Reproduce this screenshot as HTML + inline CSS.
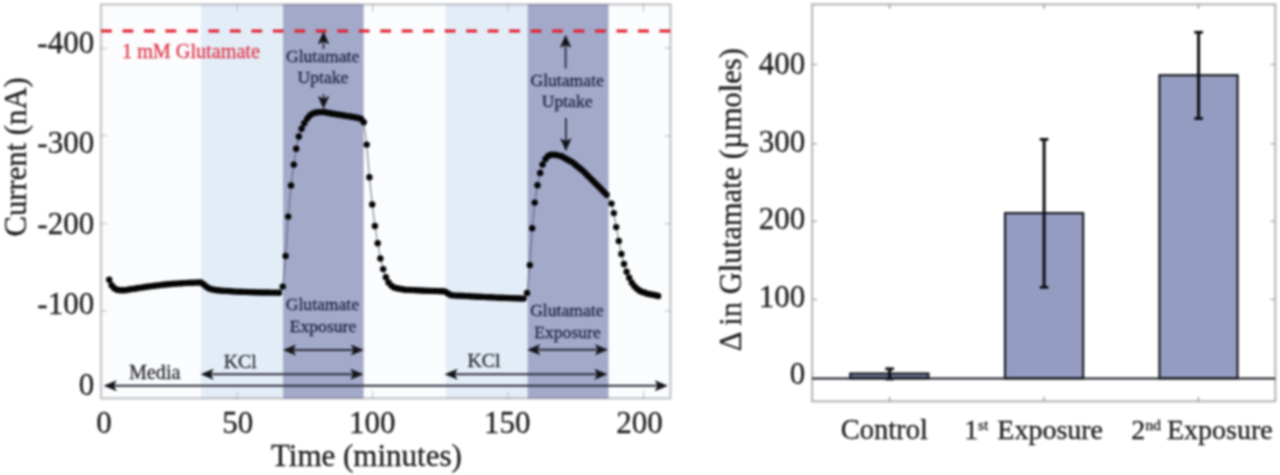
<!DOCTYPE html>
<html><head><meta charset="utf-8"><title>Glutamate figure</title>
<style>
html,body{margin:0;padding:0;background:#fff;}
body{width:1280px;height:475px;overflow:hidden;}
text{stroke-width:0.3px;paint-order:stroke;}
svg{display:block;filter:blur(0.8px);font-family:"Liberation Serif","Times New Roman",serif;}
</style></head>
<body>
<svg width="1280" height="475" viewBox="0 0 1280 475">
<rect x="0" y="0" width="1280" height="475" fill="#ffffff"/>
<rect x="101.0" y="4.4" width="569.5" height="394.0" fill="#fafcfe"/>
<rect x="201.0" y="4.4" width="82.2" height="394.0" fill="#e3edf8"/>
<rect x="446.0" y="4.4" width="82.0" height="394.0" fill="#e3edf8"/>
<rect x="283.1" y="4.4" width="80.5" height="394.0" fill="#a2a9c9"/>
<rect x="527.7" y="4.4" width="80.8" height="394.0" fill="#a2a9c9"/>
<line x1="237.4" y1="398.4" x2="237.4" y2="391.4" stroke="#c4c6cc" stroke-width="1.2" />
<line x1="237.4" y1="4.4" x2="237.4" y2="11.4" stroke="#c4c6cc" stroke-width="1.2" />
<line x1="372.6" y1="398.4" x2="372.6" y2="391.4" stroke="#c4c6cc" stroke-width="1.2" />
<line x1="372.6" y1="4.4" x2="372.6" y2="11.4" stroke="#c4c6cc" stroke-width="1.2" />
<line x1="508.0" y1="398.4" x2="508.0" y2="391.4" stroke="#c4c6cc" stroke-width="1.2" />
<line x1="508.0" y1="4.4" x2="508.0" y2="11.4" stroke="#c4c6cc" stroke-width="1.2" />
<line x1="643.5" y1="398.4" x2="643.5" y2="391.4" stroke="#c4c6cc" stroke-width="1.2" />
<line x1="643.5" y1="4.4" x2="643.5" y2="11.4" stroke="#c4c6cc" stroke-width="1.2" />
<line x1="101.0" y1="48.2" x2="107.0" y2="48.2" stroke="#c4c6cc" stroke-width="1.2" />
<line x1="670.5" y1="48.2" x2="664.5" y2="48.2" stroke="#c4c6cc" stroke-width="1.2" />
<line x1="101.0" y1="135.8" x2="107.0" y2="135.8" stroke="#c4c6cc" stroke-width="1.2" />
<line x1="670.5" y1="135.8" x2="664.5" y2="135.8" stroke="#c4c6cc" stroke-width="1.2" />
<line x1="101.0" y1="223.7" x2="107.0" y2="223.7" stroke="#c4c6cc" stroke-width="1.2" />
<line x1="670.5" y1="223.7" x2="664.5" y2="223.7" stroke="#c4c6cc" stroke-width="1.2" />
<line x1="101.0" y1="310.8" x2="107.0" y2="310.8" stroke="#c4c6cc" stroke-width="1.2" />
<line x1="670.5" y1="310.8" x2="664.5" y2="310.8" stroke="#c4c6cc" stroke-width="1.2" />
<rect x="101.0" y="4.4" width="569.5" height="394.0" fill="none" stroke="#15181f" stroke-opacity="0.23" stroke-width="2.4"/>
<line x1="101" y1="31" x2="670.5" y2="31" stroke="#e21b2b" stroke-width="3.1" stroke-dasharray="10.8 10.68"/>
<text x="122.0" y="57.9" font-size="20.2" fill="#e0394a" stroke="#e0394a" text-anchor="start" >1 mM Glutamate</text>
<polyline fill="none" stroke="#4a4c58" stroke-width="0.8" points="109.2,279.7 111.6,285.3 114.3,288.3 117.0,289.8 119.7,290.3 122.4,290.3 125.1,290.2 127.8,289.8 130.5,289.3 133.2,288.9 135.9,288.5 138.6,288.0 141.3,287.6 144.0,287.2 146.7,286.8 149.4,286.4 152.1,286.1 154.8,285.7 157.5,285.4 160.2,285.1 162.9,284.8 165.6,284.5 168.3,284.3 171.0,284.0 173.7,283.8 176.4,283.6 179.1,283.4 181.8,283.2 184.5,283.1 187.2,282.9 189.9,282.8 192.6,282.7 195.3,282.6 198.0,282.5 200.7,282.4 203.4,284.2 206.1,286.5 208.8,288.2 211.5,289.2 214.2,289.7 216.9,290.2 219.6,290.5 222.3,290.7 225.0,290.9 227.7,291.0 230.4,291.2 233.1,291.4 235.8,291.6 238.5,291.7 241.2,291.8 243.9,291.9 246.6,292.0 249.3,292.1 252.0,292.2 254.7,292.3 257.4,292.4 260.1,292.4 262.8,292.5 265.5,292.5 268.2,292.5 270.9,292.6 273.6,292.6 276.3,292.6 279.0,292.7 282.7,286.6 285.6,255.9 288.2,216.6 291.0,185.4 293.8,164.6 296.2,148.7 298.8,136.5 301.6,128.8 304.3,123.3 307.2,118.6 309.9,115.4 312.6,113.6 315.3,112.8 318.0,112.3 320.7,112.1 323.4,112.0 326.1,112.5 328.8,113.0 331.5,113.5 334.2,113.9 336.9,114.4 339.6,114.8 342.3,115.2 345.0,115.7 347.7,116.1 350.4,116.5 353.1,117.0 355.8,117.5 358.5,118.0 361.2,118.9 363.8,122.3 366.7,144.6 369.4,177.3 372.2,204.4 374.9,226.0 377.7,243.2 380.4,258.5 383.2,269.1 385.9,277.3 388.5,282.4 391.3,285.6 394.0,287.4 396.7,288.3 399.4,288.8 402.1,289.3 404.8,289.7 407.5,289.9 410.2,290.0 412.9,290.1 415.6,290.3 418.3,290.4 421.0,290.5 423.7,290.7 426.4,290.8 429.1,290.9 431.8,290.9 434.5,291.0 437.2,291.1 439.9,291.2 442.6,291.2 445.3,291.7 448.0,293.5 450.7,295.0 453.4,295.4 456.1,295.6 458.8,295.7 461.5,295.8 464.2,296.0 466.9,296.1 469.6,296.3 472.3,296.4 475.0,296.5 477.7,296.7 480.4,296.8 483.1,296.9 485.8,297.1 488.5,297.2 491.2,297.3 493.9,297.4 496.6,297.6 499.3,297.7 502.0,297.8 504.7,297.9 507.4,298.0 510.1,298.1 512.8,298.2 515.5,298.3 518.2,298.4 520.9,298.5 523.6,298.6 527.0,293.0 529.8,265.1 532.2,228.2 534.7,202.6 537.5,185.2 540.2,172.9 542.6,164.5 545.5,159.0 548.2,156.0 550.9,154.8 553.6,154.7 556.2,155.0 558.9,155.6 561.5,156.3 564.2,157.7 566.8,159.2 569.5,160.7 572.1,162.1 574.8,164.3 577.4,166.4 580.1,168.5 582.7,170.6 585.4,173.3 588.0,175.9 590.7,178.6 593.3,181.2 596.0,183.9 598.6,186.5 601.3,189.2 603.9,191.9 606.6,194.8 611.5,203.6 613.8,213.1 616.2,227.1 618.8,241.0 621.4,254.0 624.0,264.0 626.6,271.8 629.2,277.8 631.8,282.7 634.4,286.2 637.0,288.8 639.6,290.8 642.2,292.0 644.9,292.8 647.5,293.7 650.1,294.2 652.8,294.7 655.4,295.3 658.1,296.0"/>
<g fill="#050505"><circle cx="109.2" cy="279.7" r="3.2"/><circle cx="111.6" cy="285.3" r="3.2"/><circle cx="114.3" cy="288.3" r="3.2"/><circle cx="117.0" cy="289.8" r="3.2"/><circle cx="119.7" cy="290.3" r="3.2"/><circle cx="122.4" cy="290.3" r="3.2"/><circle cx="125.1" cy="290.2" r="3.2"/><circle cx="127.8" cy="289.8" r="3.2"/><circle cx="130.5" cy="289.3" r="3.2"/><circle cx="133.2" cy="288.9" r="3.2"/><circle cx="135.9" cy="288.5" r="3.2"/><circle cx="138.6" cy="288.0" r="3.2"/><circle cx="141.3" cy="287.6" r="3.2"/><circle cx="144.0" cy="287.2" r="3.2"/><circle cx="146.7" cy="286.8" r="3.2"/><circle cx="149.4" cy="286.4" r="3.2"/><circle cx="152.1" cy="286.1" r="3.2"/><circle cx="154.8" cy="285.7" r="3.2"/><circle cx="157.5" cy="285.4" r="3.2"/><circle cx="160.2" cy="285.1" r="3.2"/><circle cx="162.9" cy="284.8" r="3.2"/><circle cx="165.6" cy="284.5" r="3.2"/><circle cx="168.3" cy="284.3" r="3.2"/><circle cx="171.0" cy="284.0" r="3.2"/><circle cx="173.7" cy="283.8" r="3.2"/><circle cx="176.4" cy="283.6" r="3.2"/><circle cx="179.1" cy="283.4" r="3.2"/><circle cx="181.8" cy="283.2" r="3.2"/><circle cx="184.5" cy="283.1" r="3.2"/><circle cx="187.2" cy="282.9" r="3.2"/><circle cx="189.9" cy="282.8" r="3.2"/><circle cx="192.6" cy="282.7" r="3.2"/><circle cx="195.3" cy="282.6" r="3.2"/><circle cx="198.0" cy="282.5" r="3.2"/><circle cx="200.7" cy="282.4" r="3.2"/><circle cx="203.4" cy="284.2" r="3.2"/><circle cx="206.1" cy="286.5" r="3.2"/><circle cx="208.8" cy="288.2" r="3.2"/><circle cx="211.5" cy="289.2" r="3.2"/><circle cx="214.2" cy="289.7" r="3.2"/><circle cx="216.9" cy="290.2" r="3.2"/><circle cx="219.6" cy="290.5" r="3.2"/><circle cx="222.3" cy="290.7" r="3.2"/><circle cx="225.0" cy="290.9" r="3.2"/><circle cx="227.7" cy="291.0" r="3.2"/><circle cx="230.4" cy="291.2" r="3.2"/><circle cx="233.1" cy="291.4" r="3.2"/><circle cx="235.8" cy="291.6" r="3.2"/><circle cx="238.5" cy="291.7" r="3.2"/><circle cx="241.2" cy="291.8" r="3.2"/><circle cx="243.9" cy="291.9" r="3.2"/><circle cx="246.6" cy="292.0" r="3.2"/><circle cx="249.3" cy="292.1" r="3.2"/><circle cx="252.0" cy="292.2" r="3.2"/><circle cx="254.7" cy="292.3" r="3.2"/><circle cx="257.4" cy="292.4" r="3.2"/><circle cx="260.1" cy="292.4" r="3.2"/><circle cx="262.8" cy="292.5" r="3.2"/><circle cx="265.5" cy="292.5" r="3.2"/><circle cx="268.2" cy="292.5" r="3.2"/><circle cx="270.9" cy="292.6" r="3.2"/><circle cx="273.6" cy="292.6" r="3.2"/><circle cx="276.3" cy="292.6" r="3.2"/><circle cx="279.0" cy="292.7" r="3.2"/><circle cx="282.7" cy="286.6" r="3.2"/><circle cx="285.6" cy="255.9" r="3.2"/><circle cx="288.2" cy="216.6" r="3.2"/><circle cx="291.0" cy="185.4" r="3.2"/><circle cx="293.8" cy="164.6" r="3.2"/><circle cx="296.2" cy="148.7" r="3.2"/><circle cx="298.8" cy="136.5" r="3.2"/><circle cx="301.6" cy="128.8" r="3.2"/><circle cx="304.3" cy="123.3" r="3.2"/><circle cx="307.2" cy="118.6" r="3.2"/><circle cx="309.9" cy="115.4" r="3.2"/><circle cx="312.6" cy="113.6" r="3.2"/><circle cx="315.3" cy="112.8" r="3.2"/><circle cx="318.0" cy="112.3" r="3.2"/><circle cx="320.7" cy="112.1" r="3.2"/><circle cx="323.4" cy="112.0" r="3.2"/><circle cx="326.1" cy="112.5" r="3.2"/><circle cx="328.8" cy="113.0" r="3.2"/><circle cx="331.5" cy="113.5" r="3.2"/><circle cx="334.2" cy="113.9" r="3.2"/><circle cx="336.9" cy="114.4" r="3.2"/><circle cx="339.6" cy="114.8" r="3.2"/><circle cx="342.3" cy="115.2" r="3.2"/><circle cx="345.0" cy="115.7" r="3.2"/><circle cx="347.7" cy="116.1" r="3.2"/><circle cx="350.4" cy="116.5" r="3.2"/><circle cx="353.1" cy="117.0" r="3.2"/><circle cx="355.8" cy="117.5" r="3.2"/><circle cx="358.5" cy="118.0" r="3.2"/><circle cx="361.2" cy="118.9" r="3.2"/><circle cx="363.8" cy="122.3" r="3.2"/><circle cx="366.7" cy="144.6" r="3.2"/><circle cx="369.4" cy="177.3" r="3.2"/><circle cx="372.2" cy="204.4" r="3.2"/><circle cx="374.9" cy="226.0" r="3.2"/><circle cx="377.7" cy="243.2" r="3.2"/><circle cx="380.4" cy="258.5" r="3.2"/><circle cx="383.2" cy="269.1" r="3.2"/><circle cx="385.9" cy="277.3" r="3.2"/><circle cx="388.5" cy="282.4" r="3.2"/><circle cx="391.3" cy="285.6" r="3.2"/><circle cx="394.0" cy="287.4" r="3.2"/><circle cx="396.7" cy="288.3" r="3.2"/><circle cx="399.4" cy="288.8" r="3.2"/><circle cx="402.1" cy="289.3" r="3.2"/><circle cx="404.8" cy="289.7" r="3.2"/><circle cx="407.5" cy="289.9" r="3.2"/><circle cx="410.2" cy="290.0" r="3.2"/><circle cx="412.9" cy="290.1" r="3.2"/><circle cx="415.6" cy="290.3" r="3.2"/><circle cx="418.3" cy="290.4" r="3.2"/><circle cx="421.0" cy="290.5" r="3.2"/><circle cx="423.7" cy="290.7" r="3.2"/><circle cx="426.4" cy="290.8" r="3.2"/><circle cx="429.1" cy="290.9" r="3.2"/><circle cx="431.8" cy="290.9" r="3.2"/><circle cx="434.5" cy="291.0" r="3.2"/><circle cx="437.2" cy="291.1" r="3.2"/><circle cx="439.9" cy="291.2" r="3.2"/><circle cx="442.6" cy="291.2" r="3.2"/><circle cx="445.3" cy="291.7" r="3.2"/><circle cx="448.0" cy="293.5" r="3.2"/><circle cx="450.7" cy="295.0" r="3.2"/><circle cx="453.4" cy="295.4" r="3.2"/><circle cx="456.1" cy="295.6" r="3.2"/><circle cx="458.8" cy="295.7" r="3.2"/><circle cx="461.5" cy="295.8" r="3.2"/><circle cx="464.2" cy="296.0" r="3.2"/><circle cx="466.9" cy="296.1" r="3.2"/><circle cx="469.6" cy="296.3" r="3.2"/><circle cx="472.3" cy="296.4" r="3.2"/><circle cx="475.0" cy="296.5" r="3.2"/><circle cx="477.7" cy="296.7" r="3.2"/><circle cx="480.4" cy="296.8" r="3.2"/><circle cx="483.1" cy="296.9" r="3.2"/><circle cx="485.8" cy="297.1" r="3.2"/><circle cx="488.5" cy="297.2" r="3.2"/><circle cx="491.2" cy="297.3" r="3.2"/><circle cx="493.9" cy="297.4" r="3.2"/><circle cx="496.6" cy="297.6" r="3.2"/><circle cx="499.3" cy="297.7" r="3.2"/><circle cx="502.0" cy="297.8" r="3.2"/><circle cx="504.7" cy="297.9" r="3.2"/><circle cx="507.4" cy="298.0" r="3.2"/><circle cx="510.1" cy="298.1" r="3.2"/><circle cx="512.8" cy="298.2" r="3.2"/><circle cx="515.5" cy="298.3" r="3.2"/><circle cx="518.2" cy="298.4" r="3.2"/><circle cx="520.9" cy="298.5" r="3.2"/><circle cx="523.6" cy="298.6" r="3.2"/><circle cx="527.0" cy="293.0" r="3.2"/><circle cx="529.8" cy="265.1" r="3.2"/><circle cx="532.2" cy="228.2" r="3.2"/><circle cx="534.7" cy="202.6" r="3.2"/><circle cx="537.5" cy="185.2" r="3.2"/><circle cx="540.2" cy="172.9" r="3.2"/><circle cx="542.6" cy="164.5" r="3.2"/><circle cx="545.5" cy="159.0" r="3.2"/><circle cx="548.2" cy="156.0" r="3.2"/><circle cx="550.9" cy="154.8" r="3.2"/><circle cx="553.6" cy="154.7" r="3.2"/><circle cx="556.2" cy="155.0" r="3.2"/><circle cx="558.9" cy="155.6" r="3.2"/><circle cx="561.5" cy="156.3" r="3.2"/><circle cx="564.2" cy="157.7" r="3.2"/><circle cx="566.8" cy="159.2" r="3.2"/><circle cx="569.5" cy="160.7" r="3.2"/><circle cx="572.1" cy="162.1" r="3.2"/><circle cx="574.8" cy="164.3" r="3.2"/><circle cx="577.4" cy="166.4" r="3.2"/><circle cx="580.1" cy="168.5" r="3.2"/><circle cx="582.7" cy="170.6" r="3.2"/><circle cx="585.4" cy="173.3" r="3.2"/><circle cx="588.0" cy="175.9" r="3.2"/><circle cx="590.7" cy="178.6" r="3.2"/><circle cx="593.3" cy="181.2" r="3.2"/><circle cx="596.0" cy="183.9" r="3.2"/><circle cx="598.6" cy="186.5" r="3.2"/><circle cx="601.3" cy="189.2" r="3.2"/><circle cx="603.9" cy="191.9" r="3.2"/><circle cx="606.6" cy="194.8" r="3.2"/><circle cx="611.5" cy="203.6" r="3.2"/><circle cx="613.8" cy="213.1" r="3.2"/><circle cx="616.2" cy="227.1" r="3.2"/><circle cx="618.8" cy="241.0" r="3.2"/><circle cx="621.4" cy="254.0" r="3.2"/><circle cx="624.0" cy="264.0" r="3.2"/><circle cx="626.6" cy="271.8" r="3.2"/><circle cx="629.2" cy="277.8" r="3.2"/><circle cx="631.8" cy="282.7" r="3.2"/><circle cx="634.4" cy="286.2" r="3.2"/><circle cx="637.0" cy="288.8" r="3.2"/><circle cx="639.6" cy="290.8" r="3.2"/><circle cx="642.2" cy="292.0" r="3.2"/><circle cx="644.9" cy="292.8" r="3.2"/><circle cx="647.5" cy="293.7" r="3.2"/><circle cx="650.1" cy="294.2" r="3.2"/><circle cx="652.8" cy="294.7" r="3.2"/><circle cx="655.4" cy="295.3" r="3.2"/><circle cx="658.1" cy="296.0" r="3.2"/></g>
<line x1="111.6" y1="385.8" x2="659.9" y2="385.8" stroke="#2d2e3a" stroke-width="2.0" /><polygon points="103.6,385.8 116.8,380.3 113.8,385.8 116.8,391.3" fill="#141418"/><polygon points="667.9,385.8 654.7,391.3 657.7,385.8 654.7,380.3" fill="#141418"/>
<line x1="208.5" y1="374.3" x2="355.5" y2="374.3" stroke="#2d2e3a" stroke-width="2.0" /><polygon points="200.5,374.3 213.7,368.8 210.7,374.3 213.7,379.8" fill="#141418"/><polygon points="363.5,374.3 350.3,379.8 353.3,374.3 350.3,368.8" fill="#141418"/>
<line x1="452.5" y1="374.3" x2="599.5" y2="374.3" stroke="#2d2e3a" stroke-width="2.0" /><polygon points="444.5,374.3 457.7,368.8 454.7,374.3 457.7,379.8" fill="#141418"/><polygon points="607.5,374.3 594.3,379.8 597.3,374.3 594.3,368.8" fill="#141418"/>
<line x1="290.9" y1="350.0" x2="355.9" y2="350.0" stroke="#2d2e3a" stroke-width="2.0" /><polygon points="282.9,350.0 296.1,344.5 293.1,350.0 296.1,355.5" fill="#141418"/><polygon points="363.9,350.0 350.7,355.5 353.7,350.0 350.7,344.5" fill="#141418"/>
<line x1="535.1" y1="349.8" x2="600.1" y2="349.8" stroke="#2d2e3a" stroke-width="2.0" /><polygon points="527.1,349.8 540.3,344.3 537.3,349.8 540.3,355.3" fill="#141418"/><polygon points="608.1,349.8 594.9,355.3 597.9,349.8 594.9,344.3" fill="#141418"/>
<line x1="323.5" y1="49.0" x2="323.5" y2="39.2" stroke="#2d2e3a" stroke-width="1.8" /><polygon points="323.5,31.2 329.2,44.2 323.5,41.4 317.8,44.2" fill="#141418"/>
<line x1="323.5" y1="94.2" x2="323.5" y2="101.0" stroke="#2d2e3a" stroke-width="1.8" /><polygon points="323.5,109.0 317.8,96.0 323.5,98.8 329.2,96.0" fill="#141418"/>
<line x1="565.6" y1="68.4" x2="565.6" y2="42.8" stroke="#2d2e3a" stroke-width="1.8" /><polygon points="565.6,34.8 571.3,47.8 565.6,45.0 559.9,47.8" fill="#141418"/>
<line x1="565.9" y1="118.0" x2="565.9" y2="143.2" stroke="#2d2e3a" stroke-width="1.8" /><polygon points="565.9,151.2 560.2,138.2 565.9,141.0 571.6,138.2" fill="#141418"/>
<text x="322.6" y="62.2" font-size="17.6" fill="#20253f" stroke="#20253f" text-anchor="middle" >Glutamate</text>
<text x="323.0" y="83.0" font-size="17.6" fill="#20253f" stroke="#20253f" text-anchor="middle" >Uptake</text>
<text x="567.1" y="85.5" font-size="17.6" fill="#20253f" stroke="#20253f" text-anchor="middle" >Glutamate</text>
<text x="567.1" y="107.1" font-size="17.6" fill="#20253f" stroke="#20253f" text-anchor="middle" >Uptake</text>
<text x="322.4" y="310.4" font-size="17.6" fill="#20253f" stroke="#20253f" text-anchor="middle" >Glutamate</text>
<text x="323.0" y="332.1" font-size="17.6" fill="#20253f" stroke="#20253f" text-anchor="middle" >Exposure</text>
<text x="566.8" y="315.9" font-size="17.6" fill="#20253f" stroke="#20253f" text-anchor="middle" >Glutamate</text>
<text x="567.5" y="337.5" font-size="17.6" fill="#20253f" stroke="#20253f" text-anchor="middle" >Exposure</text>
<text x="154.7" y="379.0" font-size="20.2" fill="#2a2a2e" stroke="#2a2a2e" text-anchor="middle" >Media</text>
<text x="240.2" y="368.0" font-size="19.8" fill="#2a2a2e" stroke="#2a2a2e" text-anchor="middle" >KCl</text>
<text x="484.0" y="366.6" font-size="19.8" fill="#2a2a2e" stroke="#2a2a2e" text-anchor="middle" >KCl</text>
<text x="94.2" y="52.7" font-size="31" fill="#1c1c1c" stroke="#1c1c1c" text-anchor="end" >-400</text>
<text x="94.2" y="152.8" font-size="31" fill="#1c1c1c" stroke="#1c1c1c" text-anchor="end" >-300</text>
<text x="94.2" y="233.5" font-size="31" fill="#1c1c1c" stroke="#1c1c1c" text-anchor="end" >-200</text>
<text x="94.2" y="314.3" font-size="31" fill="#1c1c1c" stroke="#1c1c1c" text-anchor="end" >-100</text>
<text x="94.2" y="395.4" font-size="31" fill="#1c1c1c" stroke="#1c1c1c" text-anchor="end" >0</text>
<text x="104.0" y="433.3" font-size="31" fill="#1c1c1c" stroke="#1c1c1c" text-anchor="middle" >0</text>
<text x="237.8" y="433.3" font-size="31" fill="#1c1c1c" stroke="#1c1c1c" text-anchor="middle" >50</text>
<text x="372.2" y="433.3" font-size="31" fill="#1c1c1c" stroke="#1c1c1c" text-anchor="middle" >100</text>
<text x="507.3" y="433.3" font-size="31" fill="#1c1c1c" stroke="#1c1c1c" text-anchor="middle" >150</text>
<text x="639.4" y="433.3" font-size="31" fill="#1c1c1c" stroke="#1c1c1c" text-anchor="middle" >200</text>
<text x="366.4" y="465.8" font-size="31" fill="#1c1c1c" stroke="#1c1c1c" text-anchor="middle" >Time (minutes)</text>
<text transform="translate(26.3,156.9) rotate(-90)" font-size="30.7" fill="#1c1c1c" stroke="#1c1c1c" text-anchor="middle">Current (nA)</text>
<rect x="812.1" y="4.4" width="463.2" height="396.9" fill="#ffffff" stroke="#bcbcbe" stroke-width="2.3"/>
<line x1="889.5" y1="401.3" x2="889.5" y2="396.8" stroke="#8e8e92" stroke-width="1.2" />
<line x1="889.5" y1="4.4" x2="889.5" y2="8.9" stroke="#8e8e92" stroke-width="1.2" />
<line x1="1044.0" y1="401.3" x2="1044.0" y2="396.8" stroke="#8e8e92" stroke-width="1.2" />
<line x1="1044.0" y1="4.4" x2="1044.0" y2="8.9" stroke="#8e8e92" stroke-width="1.2" />
<line x1="1198.5" y1="401.3" x2="1198.5" y2="396.8" stroke="#8e8e92" stroke-width="1.2" />
<line x1="1198.5" y1="4.4" x2="1198.5" y2="8.9" stroke="#8e8e92" stroke-width="1.2" />
<line x1="812.1" y1="64.5" x2="817.1" y2="64.5" stroke="#a0a0a4" stroke-width="1.2" />
<line x1="1275.3" y1="64.5" x2="1270.3" y2="64.5" stroke="#a0a0a4" stroke-width="1.2" />
<line x1="812.1" y1="143.8" x2="817.1" y2="143.8" stroke="#a0a0a4" stroke-width="1.2" />
<line x1="1275.3" y1="143.8" x2="1270.3" y2="143.8" stroke="#a0a0a4" stroke-width="1.2" />
<line x1="812.1" y1="221.3" x2="817.1" y2="221.3" stroke="#a0a0a4" stroke-width="1.2" />
<line x1="1275.3" y1="221.3" x2="1270.3" y2="221.3" stroke="#a0a0a4" stroke-width="1.2" />
<line x1="812.1" y1="299.5" x2="817.1" y2="299.5" stroke="#a0a0a4" stroke-width="1.2" />
<line x1="1275.3" y1="299.5" x2="1270.3" y2="299.5" stroke="#a0a0a4" stroke-width="1.2" />
<rect x="850.2" y="373.5" width="78.2" height="4.9" fill="#6f7691" stroke="#17181f" stroke-width="2.1"/>
<rect x="1005.0" y="213.1" width="78.2" height="165.3" fill="#949dc1" stroke="#17181f" stroke-width="2.1"/>
<rect x="1159.4" y="75.2" width="78.2" height="303.2" fill="#949dc1" stroke="#17181f" stroke-width="2.1"/>
<line x1="812.1" y1="378.4" x2="1275.3" y2="378.4" stroke="#17181f" stroke-width="2.0" />
<line x1="889.6" y1="368.8" x2="889.6" y2="379.9" stroke="#0d0d12" stroke-width="3.0" />
<line x1="885.3" y1="368.8" x2="893.9" y2="368.8" stroke="#0d0d12" stroke-width="2.8" />
<line x1="885.3" y1="379.9" x2="893.9" y2="379.9" stroke="#0d0d12" stroke-width="1.0" />
<line x1="1044.1" y1="139.4" x2="1044.1" y2="287.3" stroke="#0d0d12" stroke-width="3.0" />
<line x1="1039.8" y1="139.4" x2="1048.4" y2="139.4" stroke="#0d0d12" stroke-width="2.8" />
<line x1="1039.8" y1="287.3" x2="1048.4" y2="287.3" stroke="#0d0d12" stroke-width="2.8" />
<line x1="1198.6" y1="32.3" x2="1198.6" y2="118.5" stroke="#0d0d12" stroke-width="3.0" />
<line x1="1194.3" y1="32.3" x2="1202.9" y2="32.3" stroke="#0d0d12" stroke-width="2.8" />
<line x1="1194.3" y1="118.5" x2="1202.9" y2="118.5" stroke="#0d0d12" stroke-width="2.8" />
<text x="805.3" y="73.7" font-size="31.0" fill="#1c1c1c" stroke="#1c1c1c" text-anchor="end" >400</text>
<text x="805.3" y="151.5" font-size="31.0" fill="#1c1c1c" stroke="#1c1c1c" text-anchor="end" >300</text>
<text x="805.3" y="229.2" font-size="31.0" fill="#1c1c1c" stroke="#1c1c1c" text-anchor="end" >200</text>
<text x="805.3" y="306.6" font-size="31.0" fill="#1c1c1c" stroke="#1c1c1c" text-anchor="end" >100</text>
<text x="805.3" y="384.0" font-size="31.0" fill="#1c1c1c" stroke="#1c1c1c" text-anchor="end" >0</text>
<text transform="translate(741.2,199.7) rotate(-90)" font-size="30.6" fill="#1c1c1c" stroke="#1c1c1c" text-anchor="middle">Δ in Glutamate (µmoles)</text>
<text x="840.8" y="439.0" font-size="28.5" fill="#1c1c1c" stroke="#1c1c1c" text-anchor="start" >Control</text>
<text y="439.2" font-size="28.0" fill="#1c1c1c" stroke="#1c1c1c"><tspan x="964.2">1</tspan><tspan x="977.9" y="430.2" font-size="15.5">st</tspan><tspan x="997.3" y="439.2">Exposure</tspan></text>
<text y="439.2" font-size="28.0" fill="#1c1c1c" stroke="#1c1c1c"><tspan x="1131.2">2</tspan><tspan x="1145.6" y="430.2" font-size="15.5">nd</tspan><tspan x="1167.0" y="439.2">Exposure</tspan></text>
</svg>
</body></html>
